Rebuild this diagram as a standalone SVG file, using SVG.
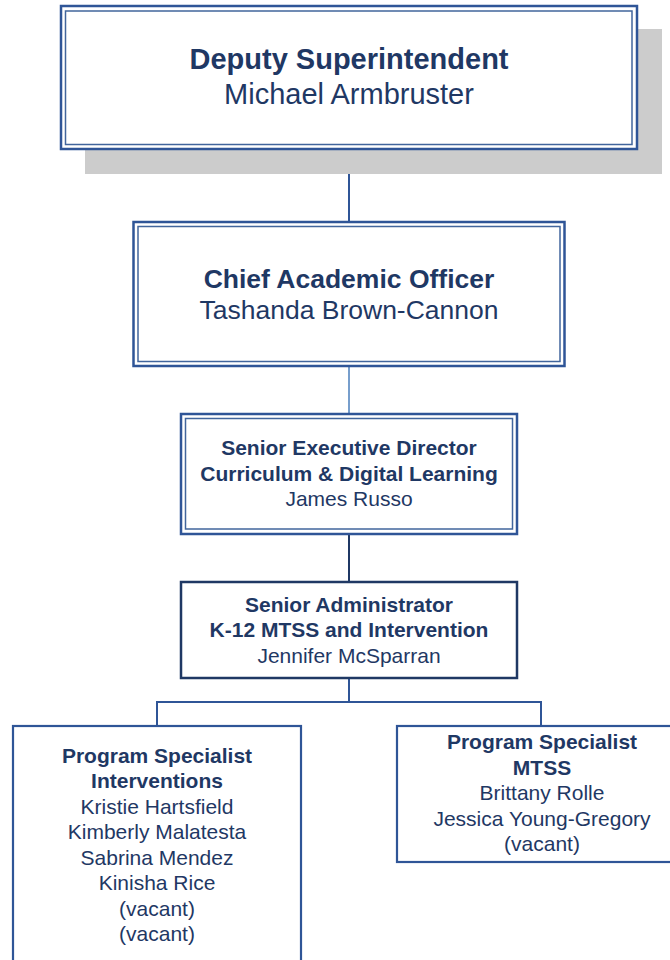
<svg xmlns="http://www.w3.org/2000/svg" width="670" height="960" viewBox="0 0 670 960">
<style>
  .t { font-family: "Liberation Sans", Arial, sans-serif; fill: #1f3864; text-anchor: middle; }
  .b { font-weight: bold; }
  .outer { fill: #ffffff; stroke: #2f5597; stroke-width: 2.5; }
  .inner { fill: none; stroke: #41659c; stroke-width: 1.5; }
  .single { fill: #ffffff; stroke: #2f5597; stroke-width: 2.2; }
  .dark { fill: #ffffff; stroke: #1f3864; stroke-width: 2.5; }
  .conn { fill: none; stroke: #2f5597; stroke-width: 2; }
</style>
<rect width="670" height="960" fill="#ffffff"/>
<g id="connectors">
  <line class="conn" x1="349" y1="149" x2="349" y2="222" stroke="#2f528f"/>
  <line x1="349" y1="366" x2="349" y2="414" stroke="#4a7ebb" stroke-width="1.5"/>
  <line x1="349" y1="534" x2="349" y2="582" stroke="#1f3864" stroke-width="2"/>
  <line class="conn" x1="349" y1="678" x2="349" y2="702"/>
  <polyline class="conn" points="157,726 157,702 541,702 541,726"/>
</g>
<g id="deputy-superintendent">
  <rect x="85" y="29" width="577" height="145" fill="#cccccc"/>
  <rect class="outer" x="61" y="6" width="576" height="143"/>
  <rect class="inner" x="65.5" y="11" width="566.5" height="133.5"/>
  <text class="t b" x="349" y="69" font-size="29">Deputy Superintendent</text>
  <text class="t" x="349" y="104" font-size="29">Michael Armbruster</text>
</g>
<g id="chief-academic-officer">
  <rect class="outer" x="133.5" y="222" width="431" height="144"/>
  <rect class="inner" x="138" y="226.5" width="422" height="135"/>
  <text class="t b" x="349" y="287.5" font-size="26.5">Chief Academic Officer</text>
  <text class="t" x="349" y="318.5" font-size="26.5">Tashanda Brown-Cannon</text>
</g>
<g id="senior-executive-director">
  <rect class="outer" x="181" y="414" width="336" height="120"/>
  <rect class="inner" x="185.5" y="418.5" width="327" height="110.5"/>
  <text class="t b" x="349" y="455" font-size="21">Senior Executive Director</text>
  <text class="t b" x="349" y="480.5" font-size="21">Curriculum &amp; Digital Learning</text>
  <text class="t" x="349" y="506" font-size="21">James Russo</text>
</g>
<g id="senior-administrator">
  <rect class="dark" x="181" y="582" width="336" height="96"/>
  <text class="t b" x="349" y="611.5" font-size="21">Senior Administrator</text>
  <text class="t b" x="349" y="636.5" font-size="21">K-12 MTSS and Intervention</text>
  <text class="t" x="349" y="662.5" font-size="21">Jennifer McSparran</text>
</g>
<g id="program-specialist-interventions">
  <rect class="single" x="13" y="726" width="288" height="250"/>
  <text class="t b" x="157" y="762.5" font-size="21">Program Specialist</text>
  <text class="t b" x="157" y="788" font-size="21">Interventions</text>
  <text class="t" x="157" y="813.5" font-size="21">Kristie Hartsfield</text>
  <text class="t" x="157" y="839" font-size="21">Kimberly Malatesta</text>
  <text class="t" x="157" y="864.5" font-size="21">Sabrina Mendez</text>
  <text class="t" x="157" y="890" font-size="21">Kinisha Rice</text>
  <text class="t" x="157" y="915.5" font-size="21">(vacant)</text>
  <text class="t" x="157" y="941" font-size="21">(vacant)</text>
</g>
<g id="program-specialist-mtss">
  <rect class="single" x="397" y="726" width="290" height="136"/>
  <text class="t b" x="542" y="749" font-size="21">Program Specialist</text>
  <text class="t b" x="542" y="774.5" font-size="21">MTSS</text>
  <text class="t" x="542" y="800" font-size="21">Brittany Rolle</text>
  <text class="t" x="542" y="825.5" font-size="21">Jessica Young-Gregory</text>
  <text class="t" x="542" y="851" font-size="21">(vacant)</text>
</g>
</svg>
